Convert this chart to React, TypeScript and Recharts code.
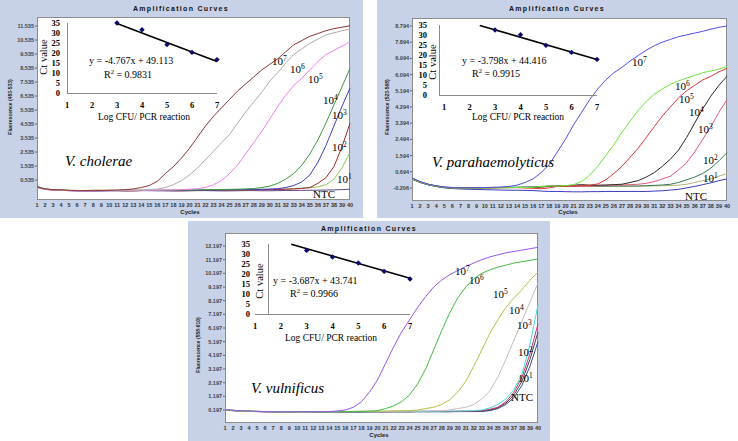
import React from "react";
import { LineChart, Line, XAxis, YAxis, ScatterChart, Scatter } from "recharts";

// ---- shared axes ----
const cycles = [
  1, 2, 3, 4, 5, 6, 7, 8, 9, 10, 11, 12, 13, 14, 15, 16, 17, 18, 19, 20,
  21, 22, 23, 24, 25, 26, 27, 28, 29, 30, 31, 32, 33, 34, 35, 36, 37, 38, 39, 40,
];
const logTicks = [1, 2, 3, 4, 5, 6, 7];
const ctTicks = [0, 5, 10, 15, 20, 25, 30, 35];
const stdX = [3, 4, 5, 6, 7];

// ---- V. cholerae, channel 483-533 ----
const vcTicks = [0.535, 1.535, 2.535, 3.535, 4.535, 5.535, 6.535, 7.535, 8.535, 9.535, 10.535, 11.535];
const vc7 = [0.05, -0.1, -0.15, -0.17, -0.2, -0.22, -0.22, -0.2, -0.21, -0.2, -0.18, -0.15, -0.1, 0.0, 0.15, 0.45, 1.0, 1.5, 2.1, 2.8, 3.6, 4.4, 5.1, 5.7, 6.3, 6.9, 7.4, 7.9, 8.4, 8.8, 9.2, 9.7, 10.2, 10.5, 10.8, 11.0, 11.2, 11.35, 11.45, 11.55];
const vc6 = [0.02, -0.12, -0.16, -0.18, -0.21, -0.22, -0.23, -0.22, -0.22, -0.21, -0.2, -0.2, -0.19, -0.18, -0.15, -0.1, 0.0, 0.2, 0.5, 0.9, 1.4, 2.0, 2.6, 3.2, 3.8, 4.6, 5.4, 6.1, 6.8, 7.6, 8.2, 8.9, 9.5, 9.9, 10.3, 10.6, 10.9, 11.05, 11.2, 11.3];
const vc5 = [0.0, -0.14, -0.17, -0.2, -0.22, -0.24, -0.25, -0.24, -0.23, -0.22, -0.22, -0.21, -0.22, -0.2, -0.2, -0.19, -0.18, -0.17, -0.15, -0.12, -0.08, 0.0, 0.2, 0.5, 1.0, 1.6, 2.4, 3.2, 4.0, 4.9, 5.8, 6.6, 7.3, 7.8, 8.4, 9.0, 9.5, 9.8, 10.1, 10.4];
const vc4 = [0.08, -0.1, -0.15, -0.18, -0.2, -0.21, -0.22, -0.23, -0.22, -0.2, -0.2, -0.19, -0.2, -0.21, -0.22, -0.21, -0.2, -0.19, -0.18, -0.18, -0.17, -0.16, -0.15, -0.14, -0.13, -0.12, -0.1, -0.07, 0.0, 0.1, 0.3, 0.6, 1.0, 1.6, 2.4, 3.4, 4.6, 5.9, 7.2, 8.5];
const vc3 = [0.03, -0.12, -0.17, -0.2, -0.22, -0.23, -0.24, -0.25, -0.24, -0.23, -0.22, -0.22, -0.21, -0.2, -0.21, -0.22, -0.21, -0.2, -0.2, -0.19, -0.19, -0.18, -0.18, -0.17, -0.16, -0.15, -0.14, -0.13, -0.12, -0.11, -0.08, 0.0, 0.15, 0.4, 0.9, 1.8, 3.0, 4.4, 5.8, 7.1];
const vc2 = [0.06, -0.11, -0.16, -0.19, -0.21, -0.22, -0.22, -0.21, -0.2, -0.2, -0.21, -0.23, -0.24, -0.22, -0.2, -0.19, -0.2, -0.22, -0.23, -0.22, -0.21, -0.2, -0.19, -0.19, -0.18, -0.18, -0.17, -0.17, -0.16, -0.15, -0.14, -0.12, -0.1, -0.06, 0.0, 0.3, 0.7, 1.5, 2.9, 4.6];
const vc1 = [0.04, -0.12, -0.17, -0.2, -0.21, -0.22, -0.21, -0.2, -0.21, -0.22, -0.22, -0.21, -0.2, -0.2, -0.21, -0.21, -0.2, -0.2, -0.19, -0.19, -0.18, -0.18, -0.17, -0.17, -0.16, -0.16, -0.15, -0.15, -0.14, -0.13, -0.12, -0.1, -0.08, -0.05, -0.02, 0.05, 0.2, 0.6, 1.4, 2.5];
const vcNtc = [0.02, -0.13, -0.18, -0.2, -0.22, -0.23, -0.24, -0.24, -0.23, -0.22, -0.23, -0.24, -0.23, -0.22, -0.22, -0.23, -0.24, -0.25, -0.24, -0.23, -0.22, -0.22, -0.23, -0.24, -0.24, -0.23, -0.22, -0.22, -0.23, -0.23, -0.22, -0.21, -0.21, -0.2, -0.2, -0.19, -0.18, -0.17, -0.15, -0.12];
const vcCt = [35, 31.6, 24.2, 20.3, 16.7];
const vcFitX = [3, 7];
const vcFitY = [34.8, 15.7];

// ---- V. parahaemolyticus, channel 523-568 ----
const vpTicks = [-0.206, 0.694, 1.594, 2.494, 3.394, 4.294, 5.194, 6.094, 6.994, 7.894, 8.794];
const vp7 = [0.35, 0.15, 0.0, -0.08, -0.15, -0.18, -0.2, -0.2, -0.19, -0.18, -0.17, -0.15, -0.12, -0.05, 0.1, 0.3, 0.65, 1.1, 1.8, 2.5, 3.3, 4.0, 4.7, 5.3, 5.8, 6.2, 6.5, 6.85, 7.15, 7.45, 7.7, 7.9, 8.05, 8.2, 8.3, 8.4, 8.5, 8.62, 8.72, 8.8];
const vp6 = [0.3, 0.12, -0.02, -0.1, -0.17, -0.2, -0.21, -0.22, -0.22, -0.21, -0.2, -0.2, -0.19, -0.18, -0.18, -0.17, -0.12, -0.1, -0.1, -0.08, -0.02, 0.15, 0.5, 1.0, 1.6, 2.2, 2.9, 3.5, 4.1, 4.6, 5.0, 5.3, 5.55, 5.75, 5.9, 6.05, 6.2, 6.3, 6.4, 6.55];
const vp5 = [0.32, 0.13, 0.0, -0.1, -0.16, -0.19, -0.2, -0.21, -0.21, -0.2, -0.2, -0.19, -0.19, -0.18, -0.2, -0.22, -0.25, -0.2, -0.12, -0.1, -0.1, -0.08, -0.05, 0.02, 0.25, 0.6, 1.0, 1.5, 2.0, 2.6, 3.2, 3.8, 4.3, 4.8, 5.2, 5.5, 5.8, 6.0, 6.25, 6.45];
const vp4 = [0.28, 0.1, -0.03, -0.12, -0.18, -0.2, -0.2, -0.21, -0.2, -0.19, -0.18, -0.18, -0.17, -0.17, -0.16, -0.16, -0.15, -0.12, -0.1, -0.1, -0.05, -0.02, -0.05, -0.05, -0.04, -0.02, 0.0, 0.1, 0.2, 0.4, 0.65, 1.0, 1.4, 1.9, 2.6, 3.4, 4.2, 4.9, 5.5, 6.0];
const vp3 = [0.3, 0.1, -0.02, -0.1, -0.17, -0.2, -0.21, -0.21, -0.2, -0.2, -0.19, -0.18, -0.18, -0.19, -0.2, -0.2, -0.15, -0.1, -0.1, -0.12, -0.12, -0.1, -0.1, -0.08, -0.06, -0.05, -0.04, -0.02, 0.0, 0.05, 0.15, 0.3, 0.45, 0.8, 1.2, 1.8, 2.5, 3.2, 4.0, 4.7];
const vp2 = [0.33, 0.14, 0.0, -0.09, -0.16, -0.19, -0.2, -0.2, -0.2, -0.19, -0.19, -0.18, -0.18, -0.17, -0.17, -0.16, -0.12, -0.1, -0.1, -0.1, -0.1, -0.1, -0.1, -0.1, -0.1, -0.1, -0.1, -0.1, -0.1, -0.08, -0.06, -0.04, 0.0, 0.1, 0.25, 0.4, 0.6, 0.9, 1.3, 1.75];
const vp1 = [0.3, 0.12, -0.01, -0.1, -0.17, -0.2, -0.21, -0.21, -0.21, -0.2, -0.2, -0.19, -0.19, -0.18, -0.18, -0.17, -0.15, -0.12, -0.12, -0.12, -0.12, -0.12, -0.12, -0.11, -0.11, -0.1, -0.1, -0.1, -0.1, -0.1, -0.09, -0.08, -0.07, -0.05, 0.0, 0.1, 0.2, 0.3, 0.45, 0.6];
const vpNtc = [0.34, 0.13, -0.02, -0.12, -0.2, -0.24, -0.26, -0.28, -0.29, -0.3, -0.31, -0.32, -0.33, -0.33, -0.34, -0.35, -0.38, -0.4, -0.4, -0.41, -0.42, -0.42, -0.41, -0.41, -0.4, -0.4, -0.4, -0.4, -0.4, -0.4, -0.38, -0.36, -0.32, -0.28, -0.2, -0.12, -0.02, 0.08, 0.2, 0.3];
const vpCt = [32.5, 30.1, 24.8, 21.3, 17.8];
const vpFitX = [2.4, 7];
const vpFitY = [34.8, 17.8];

// ---- V. vulnificus, channel 558-610 ----
const vvTicks = [0.197, 1.197, 2.197, 3.197, 4.197, 5.197, 6.197, 7.197, 8.197, 9.197, 10.197, 11.197, 12.197];
const vv7 = [0.22, 0.18, 0.15, 0.12, 0.1, 0.08, 0.07, 0.06, 0.06, 0.07, 0.08, 0.07, 0.06, 0.09, 0.12, 0.2, 0.4, 0.8, 1.5, 2.4, 3.6, 4.8, 5.9, 6.8, 7.7, 8.5, 9.2, 9.7, 10.1, 10.4, 10.7, 10.95, 11.2, 11.4, 11.55, 11.7, 11.8, 11.9, 12.0, 12.1];
const vv6 = [0.2, 0.17, 0.14, 0.12, 0.1, 0.08, 0.07, 0.06, 0.06, 0.06, 0.07, 0.07, 0.06, 0.06, 0.07, 0.08, 0.09, 0.1, 0.12, 0.15, 0.3, 0.5, 0.8, 1.3, 2.1, 3.2, 4.6, 6.0, 7.3, 8.4, 9.2, 9.8, 10.2, 10.45, 10.65, 10.8, 10.95, 11.05, 11.15, 11.25];
const vv5 = [0.21, 0.17, 0.14, 0.11, 0.09, 0.08, 0.07, 0.06, 0.05, 0.06, 0.06, 0.07, 0.07, 0.08, 0.08, 0.09, 0.09, 0.1, 0.1, 0.11, 0.12, 0.13, 0.14, 0.16, 0.2, 0.3, 0.4, 0.6, 0.95, 1.5, 2.3, 3.4, 4.6, 5.8, 6.8, 7.7, 8.4, 9.0, 9.7, 10.3];
const vv4 = [0.2, 0.16, 0.13, 0.11, 0.09, 0.08, 0.07, 0.06, 0.06, 0.06, 0.07, 0.07, 0.07, 0.07, 0.08, 0.08, 0.08, 0.09, 0.09, 0.1, 0.1, 0.11, 0.11, 0.12, 0.12, 0.13, 0.14, 0.15, 0.2, 0.3, 0.4, 0.6, 1.0, 1.6, 2.6, 3.9, 5.3, 6.7, 8.1, 9.5];
const vv3 = [0.2, 0.16, 0.13, 0.11, 0.09, 0.08, 0.07, 0.07, 0.06, 0.06, 0.06, 0.07, 0.07, 0.07, 0.07, 0.08, 0.08, 0.08, 0.08, 0.09, 0.09, 0.09, 0.1, 0.1, 0.1, 0.1, 0.11, 0.11, 0.12, 0.12, 0.13, 0.15, 0.2, 0.35, 0.6, 1.0, 1.7, 2.8, 5.0, 7.9];
const vv2 = [0.2, 0.16, 0.13, 0.1, 0.09, 0.08, 0.07, 0.06, 0.06, 0.06, 0.06, 0.06, 0.07, 0.07, 0.07, 0.07, 0.08, 0.08, 0.08, 0.08, 0.08, 0.09, 0.09, 0.09, 0.09, 0.1, 0.1, 0.1, 0.1, 0.11, 0.11, 0.12, 0.15, 0.25, 0.4, 0.8, 1.5, 2.6, 4.3, 6.5];
const vv1 = [0.19, 0.15, 0.12, 0.1, 0.08, 0.07, 0.06, 0.05, 0.05, 0.05, 0.05, 0.05, 0.05, 0.06, 0.06, 0.06, 0.06, 0.06, 0.07, 0.07, 0.07, 0.07, 0.07, 0.07, 0.08, 0.08, 0.08, 0.08, 0.08, 0.09, 0.09, 0.09, 0.12, 0.2, 0.35, 0.7, 1.3, 2.3, 3.9, 5.9];
const vvNtc = [0.19, 0.15, 0.12, 0.1, 0.08, 0.07, 0.06, 0.05, 0.05, 0.04, 0.04, 0.04, 0.04, 0.05, 0.05, 0.05, 0.05, 0.05, 0.06, 0.06, 0.06, 0.06, 0.06, 0.06, 0.07, 0.07, 0.07, 0.07, 0.07, 0.08, 0.08, 0.08, 0.09, 0.15, 0.3, 0.6, 1.1, 2.0, 3.4, 5.2];
const vvCt = [31.8, 28.5, 25.5, 21.3, 17.5];
const vvFitX = [2.4, 7];
const vvFitY = [34.9, 17.9];

const BG = "#c7d1e7";
const SERIF = '"Liberation Serif", "Times New Roman", serif';
const SANS = '"Liberation Sans", Arial, sans-serif';

type Curve = { name: string; color: string; values: number[] };
type Box = { l: number; t: number; r: number; b: number };

function Txt({ x, y, size, style, children }: { x: number; y: number; size: number; style?: React.CSSProperties; children: React.ReactNode }) {
  return (
    <div style={{ position: "absolute", left: x, top: y, fontSize: size, lineHeight: 1, whiteSpace: "nowrap", fontFamily: SERIF, color: "#000", ...style }}>
      {children}
    </div>
  );
}

function Centered({ cx, cy, rotate, style, children }: { cx: number; cy: number; rotate?: boolean; style?: React.CSSProperties; children: React.ReactNode }) {
  return (
    <div
      style={{
        position: "absolute",
        left: cx,
        top: cy,
        transform: `translate(-50%, -50%)${rotate ? " rotate(-90deg)" : ""}`,
        whiteSpace: "nowrap",
        lineHeight: 1,
        ...style,
      }}
    >
      {children}
    </div>
  );
}

function Pow({ x, y, e }: { x: number; y: number; e: number }) {
  return (
    <Txt x={x} y={y} size={11}>
      10<span style={{ fontSize: 7.5, position: "relative", top: -4 }}>{e}</span>
    </Txt>
  );
}

// small filled diamond at the point Recharts computed
function Diamond(props: any) {
  const { cx, cy } = props;
  if (cx == null || cy == null) return <g />;
  const r = 2.7;
  return <polygon points={`${cx},${cy - r} ${cx + r},${cy} ${cx},${cy + r} ${cx - r},${cy}`} fill="#0b0b6b" />;
}

function AmpPanel({ box, plot, domain, ticks, curves }: { box: Box; plot: Box; domain: [number, number]; ticks: number[]; curves: Curve[] }) {
  const rows = cycles.map((c, i) => {
    const r: Record<string, number> = { cycle: c };
    curves.forEach((k) => (r[k.name] = k.values[i]));
    return r;
  });
  const w = box.r - box.l;
  const h = box.b - box.t;
  const YW = 26;
  const XH = 10;
  const pl = plot.l - box.l;
  const pt = plot.t - box.t;
  const pr = plot.r - box.l;
  const pb = plot.b - box.t;
  return (
    <div style={{ position: "absolute", left: box.l, top: box.t, width: w, height: h, background: BG }}>
      <div style={{ position: "absolute", left: pl, top: pt, width: pr - pl, height: pb - pt, background: "#fff", border: "1px solid #8c8c8c", boxSizing: "border-box" }} />
      <div style={{ position: "absolute", left: 0, top: 0 }}>
        <LineChart width={w} height={h} data={rows} margin={{ top: pt, right: w - pr, bottom: h - pb - XH, left: pl - YW }}>
          <XAxis
            dataKey="cycle"
            type="number"
            domain={[1, 40]}
            ticks={cycles}
            interval={0}
            height={XH}
            axisLine={false}
            tickLine={false}
            tickSize={0}
            tickMargin={3}
            tick={{ fontSize: 5.5, fontFamily: SANS, fontWeight: "bold", fill: "#333" }}
          />
          <YAxis
            type="number"
            domain={domain}
            ticks={ticks}
            interval={0}
            allowDataOverflow
            width={YW}
            axisLine={false}
            tickLine={{ stroke: "#666" }}
            tickSize={2}
            tickMargin={1}
            tickFormatter={(v: number) => v.toFixed(3)}
            tick={{ fontSize: 5.5, fontFamily: SANS, fontWeight: "bold", fill: "#444" }}
          />
          {curves.map((c) => (
            <Line key={c.name} type="linear" dataKey={c.name} stroke={c.color} strokeWidth={1} dot={false} isAnimationActive={false} />
          ))}
        </LineChart>
      </div>
    </div>
  );
}

// standard-curve inset; axisAt = page x of the drawn vertical axis line
function Inset({ l, r, t, b, ys, fitX, fitY, gap, axisAt }: { l: number; r: number; t: number; b: number; ys: number[]; fitX: number[]; fitY: number[]; gap: number; axisAt: number }) {
  const ML = 40;
  const MT = 8;
  const MR = 8;
  const MB = 22;
  const XH = 16;
  const YW = 30;
  const pts = stdX.map((x, i) => ({ x, y: ys[i] }));
  const fit = fitX.map((x, i) => ({ x, y: fitY[i] }));
  const tickStyle = { fontSize: 8.5, fontFamily: SERIF, fontWeight: "bold", fill: "#000" };
  return (
    <>
      <div style={{ position: "absolute", left: axisAt, top: t, width: 1, height: b - t, background: "#8a8a8a" }} />
      <div style={{ position: "absolute", left: Math.min(axisAt, l), top: b, width: r - Math.min(axisAt, l), height: 1, background: "#8a8a8a" }} />
      <div style={{ position: "absolute", left: l - ML, top: t - MT }}>
        <ScatterChart width={r - l + ML + MR} height={b - t + MT + MB} margin={{ top: MT, right: MR, bottom: MB - XH, left: ML - YW }}>
          <XAxis type="number" dataKey="x" domain={[1, 7]} ticks={logTicks} interval={0} height={XH} tickSize={0} tickMargin={9} axisLine={false} tickLine={false} tick={tickStyle} />
          <YAxis type="number" dataKey="y" domain={[0, 35]} ticks={ctTicks} interval={0} width={YW} tickSize={0} tickMargin={gap} axisLine={false} tickLine={false} tick={tickStyle} />
          <Scatter data={fit} line={{ stroke: "#000", strokeWidth: 1.6 }} shape={() => <g />} isAnimationActive={false} />
          <Scatter data={pts} shape={Diamond} isAnimationActive={false} />
        </ScatterChart>
      </div>
    </>
  );
}

const titleStyle: React.CSSProperties = { fontFamily: SANS, fontWeight: "bold", fontSize: 7, letterSpacing: 1.3, color: "#111" };
const cyclesStyle: React.CSSProperties = { fontFamily: SANS, fontWeight: "bold", fontSize: 6, color: "#222" };
const yTitleStyle: React.CSSProperties = { fontFamily: SANS, fontWeight: "bold", fontSize: 5, color: "#222" };
const ctStyle: React.CSSProperties = { fontFamily: SERIF, fontSize: 10.5, color: "#000" };
const speciesStyle: React.CSSProperties = { fontStyle: "italic" };

export default function App() {
  const vcCurves: Curve[] = [
    { name: "NTC", color: "#5a4a8a", values: vcNtc },
    { name: "e1", color: "#8fc45a", values: vc1 },
    { name: "e2", color: "#a3262a", values: vc2 },
    { name: "e3", color: "#3d3dc4", values: vc3 },
    { name: "e4", color: "#3c9a3c", values: vc4 },
    { name: "e5", color: "#f47ef0", values: vc5 },
    { name: "e6", color: "#b4aaa8", values: vc6 },
    { name: "e7", color: "#8e3535", values: vc7 },
  ];
  const vpCurves: Curve[] = [
    { name: "NTC", color: "#3a3ac0", values: vpNtc },
    { name: "e1", color: "#b2b27a", values: vp1 },
    { name: "e2", color: "#357a55", values: vp2 },
    { name: "e3", color: "#e8567a", values: vp3 },
    { name: "e4", color: "#2a2a2a", values: vp4 },
    { name: "e5", color: "#e03838", values: vp5 },
    { name: "e6", color: "#6ce83a", values: vp6 },
    { name: "e7", color: "#4f4fe8", values: vp7 },
  ];
  const vvCurves: Curve[] = [
    { name: "NTC", color: "#34508a", values: vvNtc },
    { name: "e1", color: "#444444", values: vv1 },
    { name: "e2", color: "#cc3377", values: vv2 },
    { name: "e3", color: "#44dede", values: vv3 },
    { name: "e4", color: "#cbbcbc", values: vv4 },
    { name: "e5", color: "#bdbd48", values: vv5 },
    { name: "e6", color: "#44bb44", values: vv6 },
    { name: "e7", color: "#9955ee", values: vv7 },
  ];

  return (
    <div style={{ position: "absolute", left: 0, top: 0, width: 738, height: 441, background: "#fff", overflow: "hidden" }}>
      {/* V. cholerae */}
      <AmpPanel box={{ l: 0, t: 0, r: 363, b: 218 }} plot={{ l: 37, t: 17, r: 350, b: 200 }} domain={[-0.89, 12.18]} ticks={vcTicks} curves={vcCurves} />
      <Centered cx={181} cy={8} style={titleStyle}>Amplification Curves</Centered>
      <Centered cx={190} cy={212} style={cyclesStyle}>Cycles</Centered>
      <Centered cx={10} cy={107} rotate style={yTitleStyle}>Fluorescence (483-533)</Centered>
      <Inset l={67} r={217} t={23} b={93} ys={vcCt} fitX={vcFitX} fitY={vcFitY} gap={7} axisAt={67} />
      <Centered cx={44} cy={57} rotate style={ctStyle}>Ct value</Centered>
      <Txt x={98} y={113} size={9.5}>Log CFU/ PCR reaction</Txt>
      <Txt x={89} y={56} size={10}>y = -4.767x + 49.113</Txt>
      <Txt x={104} y={70} size={10}>R<span style={{ fontSize: 6.5, position: "relative", top: -4 }}>2</span> = 0.9831</Txt>
      <Txt x={65} y={154} size={15} style={speciesStyle}>V. cholerae</Txt>
      <Pow x={272} y={56} e={7} />
      <Pow x={290} y={64} e={6} />
      <Pow x={308} y={74} e={5} />
      <Pow x={323} y={95} e={4} />
      <Pow x={332} y={110} e={3} />
      <Pow x={332} y={142} e={2} />
      <Pow x={337} y={174} e={1} />
      <Txt x={313} y={189} size={11}>NTC</Txt>

      {/* V. parahaemolyticus */}
      <AmpPanel box={{ l: 377, t: 0, r: 738, b: 218 }} plot={{ l: 412, t: 18, r: 727, b: 201 }} domain={[-0.93, 9.24]} ticks={vpTicks} curves={vpCurves} />
      <Centered cx={557} cy={8} style={titleStyle}>Amplification Curves</Centered>
      <Centered cx={568} cy={212} style={cyclesStyle}>Cycles</Centered>
      <Centered cx={387} cy={107} rotate style={yTitleStyle}>Fluorescence (523-568)</Centered>
      <Inset l={444} r={597} t={25} b={95} ys={vpCt} fitX={vpFitX} fitY={vpFitY} gap={17} axisAt={439} />
      <Centered cx={433} cy={62} rotate style={ctStyle}>Ct value</Centered>
      <Txt x={472} y={113} size={9.5}>Log CFU/ PCR reaction</Txt>
      <Txt x={462} y={56} size={10}>y = -3.798x + 44.416</Txt>
      <Txt x={472} y={69} size={10}>R<span style={{ fontSize: 6.5, position: "relative", top: -4 }}>2</span> = 0.9915</Txt>
      <Txt x={432} y={155} size={15} style={speciesStyle}>V. parahaemolyticus</Txt>
      <Pow x={632} y={57} e={7} />
      <Pow x={675} y={81} e={6} />
      <Pow x={679} y={94} e={5} />
      <Pow x={689} y={107} e={4} />
      <Pow x={698} y={124} e={3} />
      <Pow x={703} y={155} e={2} />
      <Pow x={703} y={173} e={1} />
      <Txt x={685} y={191} size={11}>NTC</Txt>

      {/* V. vulnificus */}
      <AmpPanel box={{ l: 188, t: 221, r: 550, b: 441 }} plot={{ l: 225, t: 233, r: 538, b: 423 }} domain={[-0.754, 13.15]} ticks={vvTicks} curves={vvCurves} />
      <Centered cx={369} cy={228} style={titleStyle}>Amplification Curves</Centered>
      <Centered cx={379} cy={435} style={cyclesStyle}>Cycles</Centered>
      <Centered cx={198} cy={345} rotate style={yTitleStyle}>Fluorescence (558-610)</Centered>
      <Inset l={255} r={410} t={244} b={314} ys={vvCt} fitX={vvFitX} fitY={vvFitY} gap={5} axisAt={268} />
      <Centered cx={260} cy={281} rotate style={ctStyle}>Ct value</Centered>
      <Txt x={285} y={334} size={9.5}>Log CFU/ PCR reaction</Txt>
      <Txt x={273} y={276} size={10}>y = -3.687x + 43.741</Txt>
      <Txt x={290} y={289} size={10}>R<span style={{ fontSize: 6.5, position: "relative", top: -4 }}>2</span> = 0.9966</Txt>
      <Txt x={251} y={381} size={15} style={speciesStyle}>V. vulnificus</Txt>
      <Pow x={455} y={266} e={7} />
      <Pow x={469} y={275} e={6} />
      <Pow x={493} y={289} e={5} />
      <Pow x={509} y={305} e={4} />
      <Pow x={517} y={320} e={3} />
      <Pow x={518} y={347} e={2} />
      <Pow x={518} y={373} e={1} />
      <Txt x={511} y={392} size={11}>NTC</Txt>
    </div>
  );
}
